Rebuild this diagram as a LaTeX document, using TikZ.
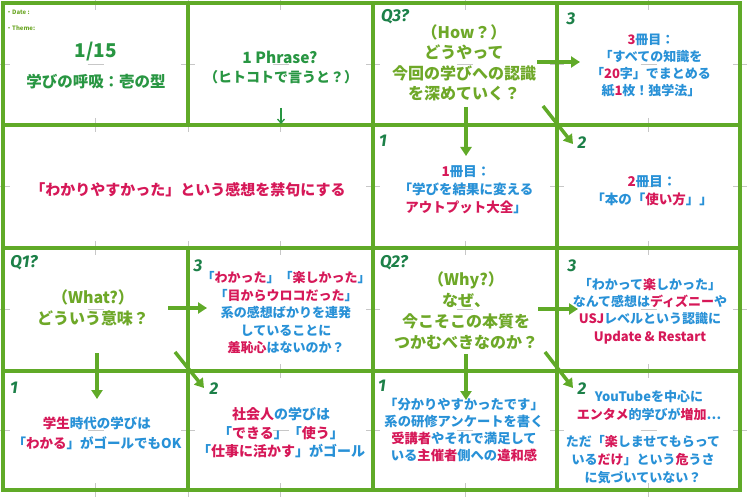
\documentclass[tikz,border=0pt]{standalone}
\usepackage{fontspec}
\setmainfont{Noto Sans CJK JP}
\newfontfamily\labfont{Fira Sans}
\usetikzlibrary{arrows.meta}
\definecolor{frame}{RGB}{96,170,40}
\definecolor{tgreen}{RGB}{40,150,66}
\definecolor{qgreen}{RGB}{110,168,40}
\definecolor{lgreen}{RGB}{28,128,72}
\definecolor{crim}{RGB}{214,24,88}
\definecolor{sky}{RGB}{40,145,215}
\newcommand{\cR}[1]{\textcolor{crim}{#1}}
\begin{document}
\begin{tikzpicture}[x=1pt,y=-1pt,
  cell/.style={draw=frame,line width=4pt},
  tick/.style={draw=black!22,line width=0.6pt},
  txt/.style={align=center,inner sep=0pt,text=sky,font=\bfseries\fontsize{13}{17.5}\selectfont},
  qtxt/.style={align=center,inner sep=0pt,text=qgreen,font=\bfseries\fontsize{16}{20.5}\selectfont},
  lab/.style={inner sep=0pt,text=lgreen,font=\labfont\bfseries\itshape\fontsize{17}{17}\selectfont},
  arr/.style={draw=frame,line width=3.5pt,-{Triangle[length=9pt,width=11pt]}},
  thinarr/.style={draw=tgreen,line width=1.3pt,-{Straight Barb[length=4pt,width=7pt]}},
]
\useasboundingbox (0,0) rectangle (747,497);
\fill[white] (0,0) rectangle (747,497);
% faint guide ticks
\foreach \y in {3,125,248,371,490}{
  \foreach \x in {95.5,188,280.5,465,648.5}{
    \draw[tick] (\x,\y-7) -- (\x,\y+7);
  }
}
\foreach \x in {3,373,557,740}{
  \foreach \y in {64,186.5,309.5,430.5}{
    \draw[tick] (\x-7,\y) -- (\x+7,\y);
  }
}
\foreach \y in {64,309.5,430.5}{\draw[tick] (181,\y) -- (195,\y);}
\foreach \x/\y in {95.5/64,280.5/64,465/64,648.5/64,465/186.5,648.5/186.5,95.5/309.5,280.5/309.5,465/309.5,648.5/309.5,95.5/430.5,280.5/430.5,465/430.5,648.5/430.5}{
  \draw[tick] (\x-8,\y) -- (\x+8,\y);
}
% cells
\draw[cell] (3,3) rectangle (188,125);
\draw[cell] (188,3) rectangle (373,125);
\draw[cell] (373,3) rectangle (557,125);
\draw[cell] (557,3) rectangle (740,125);
\draw[cell] (3,125) rectangle (373,248);
\draw[cell] (373,125) rectangle (557,248);
\draw[cell] (557,125) rectangle (740,248);
\draw[cell] (3,248) rectangle (188,371);
\draw[cell] (188,248) rectangle (373,371);
\draw[cell] (373,248) rectangle (557,371);
\draw[cell] (557,248) rectangle (740,371);
\draw[cell] (3,371) rectangle (188,490);
\draw[cell] (188,371) rectangle (373,490);
\draw[cell] (373,371) rectangle (557,490);
\draw[cell] (557,371) rectangle (740,490);

% row 1
\node[anchor=west,inner sep=0pt,text=qgreen,font=\bfseries\fontsize{6}{7}\selectfont] (date) at (6,12) {・Date :};
\node[anchor=west,inner sep=0pt,text=qgreen,font=\bfseries\fontsize{6}{7}\selectfont] (theme) at (6,28) {・Theme:};
\node[txt,text=tgreen,font=\bfseries\fontsize{19}{22}\selectfont] (day) at (96,52) {1/15};
\node[txt,text=tgreen,font=\bfseries\fontsize{15.5}{18}\selectfont] (title) at (96,82) {学びの呼吸：壱の型};
\node[txt,text=tgreen,font=\bfseries\fontsize{15.5}{18}\selectfont] (phr) at (280,57) {1 Phrase?};
\node[txt,text=tgreen,font=\bfseries\fontsize{14}{18}\selectfont] (phr2) at (281,77) {（ヒトコトで言うと？）};
\coordinate (phrA) at (281,108);
\coordinate (phrB) at (281,124);
\draw[thinarr] (phrA) -- (phrB);

\node[lab] (q3l) at (395,17) {Q3?};
\node[qtxt] (q3) at (464,63) {（How？）\\どうやって\\今回の学びへの認識\\を深めていく？};
\node[lab] (l3a) at (571,19) {3};
\node[txt,font=\bfseries\fontsize{13}{17}\selectfont] (b3) at (651,66) {\cR{3}冊目：\\「すべての知識を\\「\cR{20}字」でまとめる\\紙\cR{1}枚！独学法」};

% row 2
\node[txt,text=crim,font=\bfseries\fontsize{15}{18}\selectfont] (ban) at (188,190) {「わかりやすかった」という感想を禁句にする};
\node[lab] (l1a) at (383,141) {1};
\node[txt,font=\bfseries\fontsize{13.5}{18}\selectfont] (b1) at (466,190) {\cR{1}冊目：\\「学びを結果に変える\\\cR{アウトプット大全}」};
\node[lab] (l2a) at (582,143) {2};
\node[txt,font=\bfseries\fontsize{13.5}{18}\selectfont] (b2) at (652,191) {\cR{2}冊目：\\「本の「\cR{使い方}」」};

% row 3
\node[lab] (q1l) at (24,263) {Q1?};
\node[qtxt] (q1) at (93,308) {（What?）\\どういう意味？};
\node[lab] (l3b) at (198,266) {3};
\node[txt] (r32) at (286,313) {「\cR{わかった}」「\cR{楽しかった}」\\「\cR{目からウロコだった}」\\系の感想ばかりを連発\\していることに\\\cR{羞恥心}はないのか？};
\node[lab] (q2l) at (394,263) {Q2?};
\node[qtxt,font=\bfseries\fontsize{16}{21}\selectfont] (q2) at (466,311) {（Why?）\\なぜ、\\今こそこの本質を\\つかむべきなのか？};
\node[lab] (l3c) at (572,266) {3};
\node[txt,font=\bfseries\fontsize{13}{17.3}\selectfont] (r34) at (650,311) {「わかって\cR{楽}しかった」\\なんて感想は\cR{ディズニー}や\\\cR{USJ}レベルという認識に\\\cR{Update \& Restart}};

% row 4
\node[lab] (l1b) at (14,388) {1};
\node[txt,font=\bfseries\fontsize{13.5}{20}\selectfont] (r41) at (97,433) {\cR{学生}時代の学びは\\「\cR{わかる}」がゴールでもOK};
\node[lab] (l2b) at (214,389) {2};
\node[txt,font=\bfseries\fontsize{14}{18.5}\selectfont] (r42) at (281,433) {\cR{社会人}の学びは\\「\cR{できる}」「\cR{使う}」\\「\cR{仕事に活かす}」がゴール};
\node[lab] (l1c) at (382,386) {1};
\node[txt,font=\bfseries\fontsize{13.3}{17.3}\selectfont] (r43) at (464,430) {「分かりやすかったです」\\系の研修アンケートを書く\\\cR{受講者}やそれで満足して\\いる\cR{主催者}側への\cR{違和感}};
\node[lab] (l2c) at (582,389) {2};
\node[txt,font=\bfseries\fontsize{13}{18}\selectfont] (r44a) at (649,406) {YouTubeを中心に\\\cR{エンタメ}的学びが\cR{増加}…};
\node[txt,font=\bfseries\fontsize{13}{18}\selectfont] (r44b) at (643,460) {ただ「\cR{楽}しませてもらって\\いる\cR{だけ}」という\cR{危}うさ\\に気づいていない？};

% arrows
\coordinate (q3s) at (466,107);  \coordinate (b1n) at (466,156);
\coordinate (q3e) at (537,62);   \coordinate (b3w) at (580,62);
\coordinate (q3d) at (543,106);  \coordinate (b2nw) at (573,144);
\coordinate (q1e) at (168,308);  \coordinate (r32w) at (207,308);
\coordinate (q1s) at (97,353);   \coordinate (r41n) at (97,399);
\coordinate (q1d) at (175,352);  \coordinate (r42nw) at (204,388);
\coordinate (q2e) at (538,309);  \coordinate (r34w) at (578,309);
\coordinate (q2s) at (466,354);  \coordinate (r43n) at (466,400);
\coordinate (q2d) at (545,352);  \coordinate (r44nw) at (573,388);
\draw[arr] (q3s) -- (b1n);
\draw[arr] (q3e) -- (b3w);
\draw[arr] (q3d) -- (b2nw);
\draw[arr] (q1e) -- (r32w);
\draw[arr] (q1s) -- (r41n);
\draw[arr] (q1d) -- (r42nw);
\draw[arr] (q2e) -- (r34w);
\draw[arr] (q2s) -- (r43n);
\draw[arr] (q2d) -- (r44nw);
\end{tikzpicture}
\end{document}
